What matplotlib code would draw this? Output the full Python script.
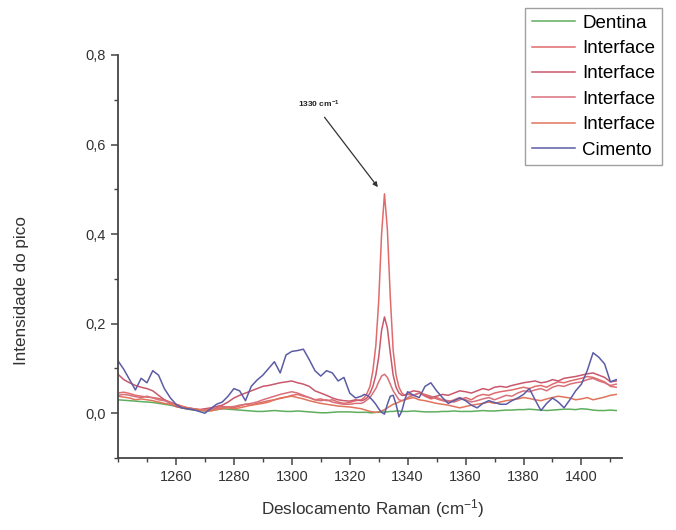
import numpy as np
import matplotlib
matplotlib.use('Agg')
import matplotlib.pyplot as plt
from matplotlib.ticker import MultipleLocator, FuncFormatter

plt.rcParams['font.family'] = ['Liberation Sans', 'DejaVu Sans']
plt.rcParams['mathtext.default'] = 'regular'

# Raman shift grid (finer around the 1330 peak)
shift = list(range(1240, 1325, 2)) + list(range(1325, 1340)) + list(range(1340, 1413, 2))

dentina = [.030, .029, .028, .027, .026, .025, .024, .022, .020, .018,
           .015, .012, .009, .007, .006, .005, .006, .008, .010, .009,
           .008, .007, .006, .005, .004, .004, .005, .006, .005, .004,
           .004, .005, .004, .003, .002, .001, .001, .002, .003, .003,
           .003, .002, .002,
           .002, .002, .001, .001, .002, .002, .003, .003, .003, .004, .004, .005, .005, .004, .004,
           .004, .005, .004, .003, .003, .003, .004, .004, .005, .004,
           .004, .004, .005, .006, .005, .005, .006, .007, .007, .008,
           .008, .009, .008, .007, .006, .007, .008, .009, .009, .008,
           .010, .009, .007, .006, .006, .007, .006]

interface_1 = [.045, .047, .044, .040, .038, .036, .035, .033, .030, .025,
               .020, .015, .012, .010, .008, .007, .008, .012, .015, .014,
               .012, .016, .020, .018, .022, .025, .028, .030, .033, .036,
               .040, .042, .038, .035, .030, .032, .028, .030, .025, .022,
               .024, .028, .030,
               .035, .045, .060, .095, .150, .250, .400, .490, .410, .260, .140, .085, .058, .045, .040,
               .042, .040, .045, .038, .032, .035, .030, .028, .025, .030,
               .035, .030, .038, .042, .040, .045, .048, .050, .052, .055,
               .058, .055, .060, .062, .058, .065, .070, .068, .072, .075,
               .078, .082, .080, .075, .070, .060, .058]

interface_2 = [.087, .075, .068, .062, .058, .055, .050, .040, .030, .022,
               .015, .012, .010, .008, .008, .010, .012, .015, .018, .025,
               .034, .040, .045, .050, .055, .060, .062, .065, .068, .070,
               .072, .068, .065, .060, .050, .045, .040, .034, .030, .028,
               .027, .030, .028,
               .030, .035, .045, .060, .085, .125, .185, .215, .190, .135, .085, .058, .045, .040, .040,
               .045, .050, .048, .040, .035, .038, .042, .040, .045, .050,
               .048, .045, .050, .055, .052, .058, .060, .058, .062, .065,
               .068, .070, .072, .068, .070, .075, .072, .078, .080, .082,
               .085, .088, .090, .085, .080, .070, .072]

interface_3 = [.040, .042, .040, .037, .035, .038, .034, .030, .028, .024,
               .020, .016, .012, .010, .008, .006, .008, .010, .012, .014,
               .015, .018, .020, .022, .025, .030, .034, .038, .042, .045,
               .048, .045, .040, .035, .030, .028, .030, .025, .022, .020,
               .020, .022, .022,
               .025, .030, .035, .045, .055, .070, .083, .087, .080, .065, .050, .040, .030, .028, .030,
               .035, .040, .045, .042, .038, .032, .028, .025, .030, .035,
               .030, .025, .028, .032, .035, .030, .035, .040, .038, .045,
               .050, .048, .052, .055, .050, .058, .062, .060, .065, .068,
               .070, .075, .078, .072, .068, .062, .065]

interface_4 = [.038, .036, .034, .030, .032, .030, .028, .025, .022, .020,
               .018, .015, .012, .010, .008, .006, .005, .008, .010, .012,
               .010, .012, .015, .018, .020, .022, .025, .030, .034, .036,
               .038, .035, .032, .028, .025, .022, .020, .018, .016, .015,
               .014, .012, .010,
               .008, .006, .004, .003, .002, .003, .005, .008, .012, .016, .020, .022, .025, .028, .030,
               .032, .035, .030, .028, .025, .022, .020, .018, .015, .012,
               .015, .018, .020, .022, .025, .022, .025, .028, .030, .032,
               .035, .033, .030, .028, .032, .035, .038, .036, .034, .030,
               .032, .035, .030, .033, .036, .040, .042]

cimento = [.117, .098, .075, .052, .078, .068, .095, .085, .055, .035,
           .020, .012, .010, .008, .004, .000, .010, .020, .025, .038,
           .055, .050, .028, .060, .074, .085, .100, .115, .090, .130,
           .138, .140, .143, .120, .095, .083, .095, .090, .072, .080,
           .045, .034, .038,
           .042, .040, .035, .028, .020, .010, .002, -.002, .020, .038, .040, .020, -.008, .005, .030,
           .048, .040, .035, .060, .068, .050, .035, .022, .028, .034,
           .028, .018, .012, .022, .028, .024, .020, .020, .028, .034,
           .042, .055, .030, .006, .022, .034, .025, .012, .030, .050,
           .065, .095, .135, .125, .110, .070, .075]

series = [('Dentina', dentina, '#5fae5f'),
          ('Interface', interface_1, '#e06b6b'),
          ('Interface', interface_2, '#c9586c'),
          ('Interface', interface_3, '#d8707a'),
          ('Interface', interface_4, '#e0745c'),
          ('Cimento', cimento, '#5c5ca6')]

fig = plt.figure(figsize=(6.76, 5.30), dpi=100)
ax = fig.add_axes([118 / 676, 1 - 458 / 530, (622 - 118) / 676, (458 - 55) / 530])

for name, vals, col in series:
    ax.plot(shift, vals, color=col, lw=1.1, label=name)

ax.set_xlim(1240, 1414)
ax.set_ylim(-0.1, 0.8)

ax.xaxis.set_major_locator(MultipleLocator(20))
ax.xaxis.set_minor_locator(MultipleLocator(10))
ax.yaxis.set_major_locator(MultipleLocator(0.2))
ax.yaxis.set_minor_locator(MultipleLocator(0.1))
ax.set_xticks(range(1260, 1401, 20))
ax.yaxis.set_major_formatter(FuncFormatter(lambda v, p: f'{v:.1f}'.replace('.', ',')))

for s in ['top', 'right']:
    ax.spines[s].set_visible(False)
for s in ['left', 'bottom']:
    ax.spines[s].set_color('#444444')
    ax.spines[s].set_linewidth(1.3)
ax.tick_params(which='major', length=5, width=1.1, color='#444444', labelsize=10.5, labelcolor='#333333')
ax.tick_params(which='minor', length=3, width=1.0, color='#444444')

# peak annotation
ax.text(1309.5, 0.69, '1330 cm$^{-1}$', fontsize=6, fontweight='bold', ha='center', va='center', color='#222222')
ax.annotate('', xy=(1330.3, 0.50), xytext=(1310.7, 0.666),
            arrowprops=dict(arrowstyle='-|>', color='#333333', lw=0.9, mutation_scale=7))

fig.text(22 / 676, 1 - 291 / 530, 'Intensidade do pico', rotation=90, ha='center', va='center',
         fontsize=12.3, color='#333333')
fig.text(373 / 676, 1 - 509 / 530, 'Deslocamento Raman (cm$^{-1}$)', ha='center', va='center',
         fontsize=12.3, color='#333333')

leg = fig.legend(loc='upper right', bbox_to_anchor=(662 / 676, 1 - 8 / 530), fontsize=13.5, frameon=True,
                 fancybox=False, edgecolor='#888888', handlelength=2.3, labelspacing=0.44,
                 borderpad=0.35, handletextpad=0.4, borderaxespad=0)
leg.get_frame().set_linewidth(1.0)

fig.savefig('out.png', dpi=100)
